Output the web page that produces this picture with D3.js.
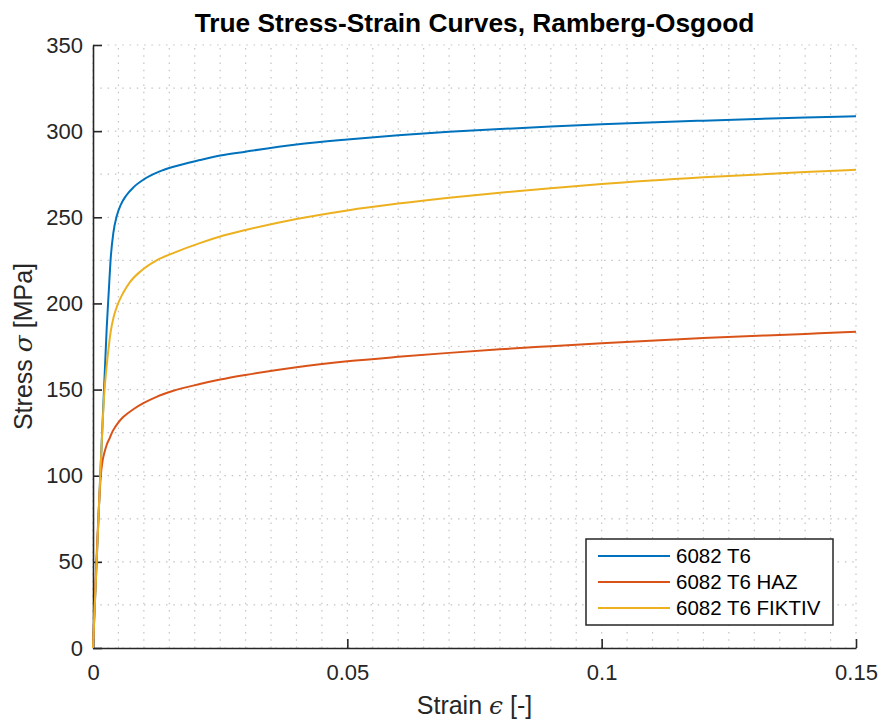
<!DOCTYPE html>
<html>
<head>
<meta charset="utf-8">
<script src="https://cdn.jsdelivr.net/npm/d3@7"></script>
<style>
  body { margin: 0; background: #fff; }
  text { font-family: "Liberation Sans", Arial, sans-serif; }
</style>
</head>
<body>
<div id="chart"></div>
<script>
const width = 881
const height = 722

// series (true strain [-], true stress [MPa])
const strainT6 = [0, 0.0015, 0.0024, 0.0027, 0.0031, 0.0035, 0.0040, 0.0047, 0.0055, 0.0065, 0.008, 0.010, 0.013, 0.016, 0.021, 0.025, 0.03, 0.04, 0.05, 0.06, 0.07, 0.08, 0.09, 0.1, 0.12, 0.14, 0.15]
const stressT6 = [0, 105, 166, 186, 207, 227, 241, 251, 257.5, 262.5, 267.5, 272, 276.5, 279.5, 283.2, 285.8, 288.1, 292.3, 295.2, 297.6, 299.6, 301.2, 302.7, 304.0, 306.1, 307.9, 308.7]

const strainHAZ = [0, 0.0012, 0.0015, 0.0019, 0.0023, 0.0027, 0.0033, 0.0039, 0.005, 0.006, 0.008, 0.0099, 0.0125, 0.0155, 0.021, 0.025, 0.03, 0.04, 0.05, 0.06, 0.07, 0.08, 0.09, 0.1, 0.12, 0.14, 0.15]
const stressHAZ = [0, 84, 99, 109, 114, 118, 122, 126, 131, 134.2, 138.7, 142.1, 145.8, 149, 153.2, 155.8, 158.5, 163, 166.4, 169, 171.3, 173.4, 175.2, 176.9, 180, 182.3, 183.5]

const strainFIK = [0, 0.0015, 0.0022, 0.0027, 0.0031, 0.0035, 0.0041, 0.0048, 0.006, 0.0073, 0.0095, 0.0125, 0.016, 0.021, 0.025, 0.03, 0.04, 0.05, 0.06, 0.07, 0.08, 0.09, 0.1, 0.12, 0.14, 0.15]
const stressFIK = [0, 105, 147, 164, 175, 184, 192.5, 199, 206.5, 212.5, 219, 225, 229.5, 235, 238.8, 242.6, 249, 254, 258, 261.4, 264.3, 266.9, 269.3, 273.2, 276.3, 277.6]

const seriesNames = ["6082 T6", "6082 T6 HAZ", "6082 T6 FIKTIV"]
const seriesColors = ["#0072BD", "#D95319", "#EDB120"]

const xTicks = [0, 0.05, 0.1, 0.15]
const xTickLabels = ["0", "0.05", "0.1", "0.15"]
const yTicks = [0, 50, 100, 150, 200, 250, 300, 350]

const series = [
    { name: seriesNames[0], color: seriesColors[0], pts: strainT6.map((e, i) => [e, stressT6[i]]) },
    { name: seriesNames[1], color: seriesColors[1], pts: strainHAZ.map((e, i) => [e, stressHAZ[i]]) },
    { name: seriesNames[2], color: seriesColors[2], pts: strainFIK.map((e, i) => [e, stressFIK[i]]) },
]

const margin = { left: 93, right: width - 856, top: 45, bottom: height - 648 }
const axisColor = "#262626"

const x = d3.scaleLinear().domain([0, 0.15]).range([margin.left, width - margin.right])
const y = d3.scaleLinear().domain([0, 350]).range([height - margin.bottom, margin.top])

const svg = d3.select("#chart")
    .append("svg")
    .attr("width", width)
    .attr("height", height)

// grid: minor + major, all dotted like matlab's ':' style
const grid = svg.append("g").attr("stroke", "#c4c4c4").attr("stroke-width", 1.2).attr("stroke-dasharray", "1.5,5.8")
grid.selectAll(".gx")
    .data(d3.range(0, 31).map(i => i * 0.005))
    .enter().append("line")
    .attr("x1", d => x(d)).attr("x2", d => x(d))
    .attr("y1", y(0)).attr("y2", y(350))
grid.selectAll(".gy")
    .data(d3.range(0, 15).map(i => i * 25))
    .enter().append("line")
    .attr("y1", d => y(d)).attr("y2", d => y(d))
    .attr("x1", x(0)).attr("x2", x(0.15))

// axes, ticks pointing inward
const xAxis = svg.append("g")
    .attr("transform", `translate(0,${y(0)})`)
    .call(d3.axisBottom(x).tickValues(xTicks).tickFormat((d, i) => xTickLabels[i])
        .tickSizeInner(-9).tickSizeOuter(0).tickPadding(16))
const yAxis = svg.append("g")
    .attr("transform", `translate(${x(0)},0)`)
    .call(d3.axisLeft(y).tickValues(yTicks).tickSizeInner(-9).tickSizeOuter(0).tickPadding(10))

for (const ax of [xAxis, yAxis]) {
    ax.select(".domain").attr("stroke", axisColor).attr("stroke-width", 1.6)
    ax.selectAll(".tick line").attr("stroke", axisColor).attr("stroke-width", 1.6)
    ax.selectAll(".tick text").attr("fill", axisColor).style("font-size", "22px")
        .style("font-family", "'Liberation Sans', Arial, sans-serif")
}

// curves
const line = d3.line()
    .x(d => x(d[0]))
    .y(d => y(d[1]))
    .curve(d3.curveMonotoneX)

svg.append("g")
    .selectAll("path")
    .data(series)
    .enter()
    .append("path")
    .attr("d", d => line(d.pts))
    .attr("fill", "none")
    .attr("stroke", d => d.color)
    .attr("stroke-width", 2)

// title + labels
svg.append("text")
    .attr("x", (x(0) + x(0.15)) / 2)
    .attr("y", 32)
    .attr("text-anchor", "middle")
    .style("font-size", "26.3px")
    .style("font-weight", "bold")
    .attr("fill", "#000")
    .text("True Stress-Strain Curves, Ramberg-Osgood")

const xLabel = svg.append("text")
    .attr("x", (x(0) + x(0.15)) / 2)
    .attr("y", 714)
    .attr("text-anchor", "middle")
    .style("font-size", "25px")
    .attr("fill", axisColor)
xLabel.append("tspan").text("Strain ")
xLabel.append("tspan").style("font-style", "italic").style("font-family", "'DejaVu Serif', serif").text("ϵ")
xLabel.append("tspan").text(" [-]")

const yLabel = svg.append("text")
    .attr("transform", `translate(32,${(y(0) + y(350)) / 2}) rotate(-90)`)
    .attr("text-anchor", "middle")
    .style("font-size", "25px")
    .attr("fill", axisColor)
yLabel.append("tspan").text("Stress ")
yLabel.append("tspan").style("font-style", "italic").style("font-family", "'DejaVu Serif', serif").text("σ")
yLabel.append("tspan").text(" [MPa]")

// legend
const legend = svg.append("g").attr("transform", "translate(586,539)")
legend.append("rect")
    .attr("width", 247).attr("height", 86)
    .attr("fill", "#fff")
    .attr("stroke", axisColor).attr("stroke-width", 1.5)

const rows = legend.selectAll(".row")
    .data(series)
    .enter().append("g")
    .attr("transform", (d, i) => `translate(0,${17 + i * 26})`)
rows.append("line")
    .attr("x1", 12).attr("x2", 84)
    .attr("stroke", d => d.color).attr("stroke-width", 2)
rows.append("text")
    .attr("x", 90).attr("dy", "0.36em")
    .style("font-size", "20.5px")
    .attr("fill", "#000")
    .text(d => d.name)
</script>
</body>
</html>
